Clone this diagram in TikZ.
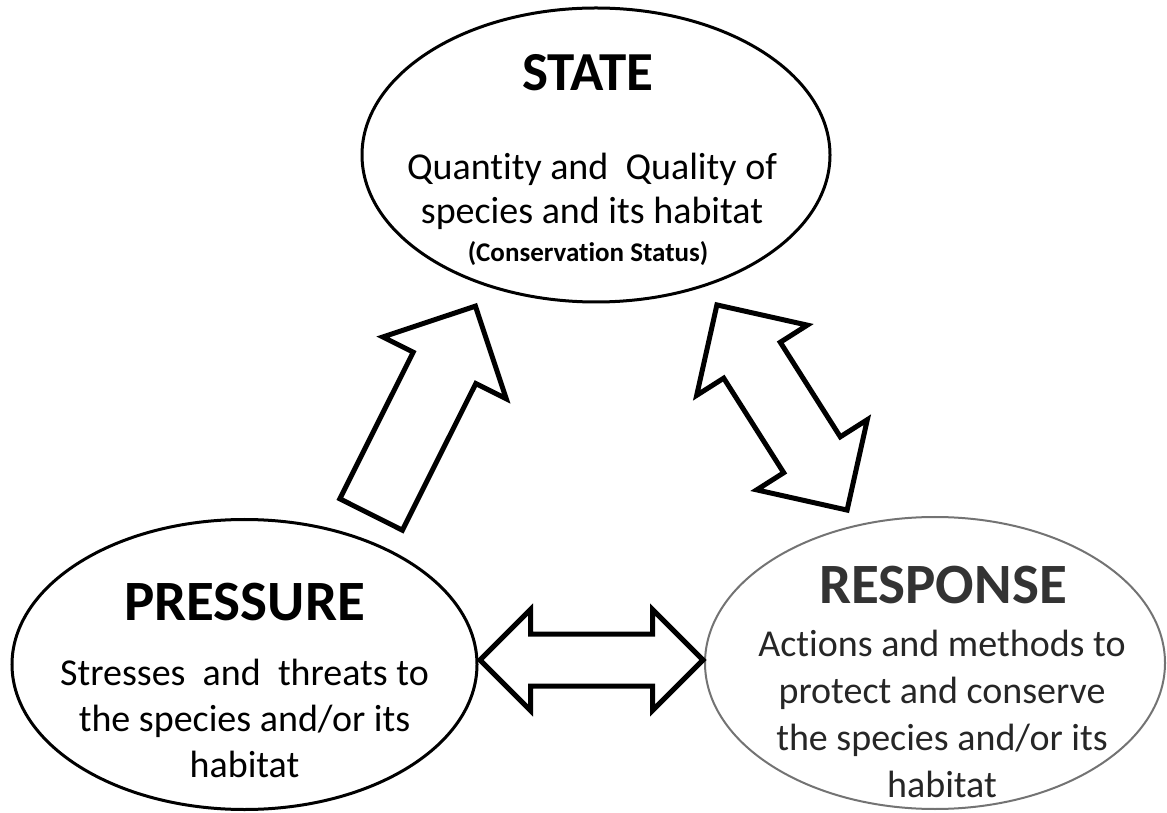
\documentclass[tikz,border=0pt]{standalone}
\usepackage{fontspec}
\setmainfont{Carlito}[Ligatures=NoCommon]
\usetikzlibrary{shapes,arrows,positioning}
\tikzstyle{bubble} = [ellipse, draw, line width=3pt, inner sep=0pt]
\tikzstyle{title} = [font=\bfseries\fontsize{57}{60}\selectfont, anchor=base, inner sep=0pt]
\tikzstyle{body} = [font=\fontsize{38}{46}\selectfont, align=center, anchor=base, inner sep=0pt]
\tikzstyle{fat} = [single arrow, draw, fill=white, line width=5pt, inner xsep=0pt,
    single arrow tip angle=90]
\tikzstyle{fatboth} = [double arrow, draw, fill=white, line width=5pt, inner xsep=0pt,
    double arrow tip angle=90]

\begin{document}
\begin{tikzpicture}[x=1pt, y=1pt]
    \useasboundingbox (0,0) rectangle (1167,812);
    % Place nodes
    \node [bubble, minimum width=468pt, minimum height=294pt] (state) at (596,657) {};
    \node [bubble, minimum width=465pt, minimum height=290pt] (pressure) at (244.5,147.5) {};
    \node [bubble, draw=black!55, line width=2pt, minimum width=460pt, minimum height=292pt] (response) at (935,149) {};
    % Texts (base = last line)
    \node [title, font=\bfseries\fontsize{55}{60}\selectfont] (statetitle) at ([xshift=-8pt, yshift=64pt]state.center) {STATE};
    \node [body, font=\fontsize{38}{44}\selectfont] (statetext) at ([xshift=-4pt, yshift=-69pt]state.center) {Quantity and \ Quality of\\species and its habitat};
    \node [title, font=\bfseries\fontsize{27}{30}\selectfont] (statenote) at ([xshift=-8pt, yshift=-107pt]state.center) {(Conservation Status)};
    \node [title] (pressuretitle) at ([yshift=44.5pt]pressure.center) {PRESSURE};
    \node [body] (pressuretext) at ([yshift=-112.5pt]pressure.center) {Stresses \ and \ threats to\\the species and/or its\\habitat};
    \node [title, text=black!80] (responsetitle) at ([xshift=8pt, yshift=60pt]response.center) {RESPONSE};
    \node [body, text=black!85, font=\fontsize{38}{47}\selectfont] (responsetext) at ([xshift=7pt, yshift=-134pt]response.center) {Actions and methods to\\protect and conserve\\the species and/or its\\habitat};
    % Draw block arrows
    \node [fat, rotate=63.4, minimum height=233pt, inner ysep=32.5pt, single arrow head extend=34pt, anchor=tip] (pressuretostate) at (477,509) {};
    \node [fatboth, rotate=-57.6, minimum height=243pt, inner ysep=31pt, double arrow head extend=32pt] (stateresponse) at (782,404.5) {};
    \node [fatboth, minimum height=223pt, inner ysep=23.5pt, double arrow head extend=24.5pt] (pressureresponse) at (591.5,152) {};
\end{tikzpicture}
\end{document}
